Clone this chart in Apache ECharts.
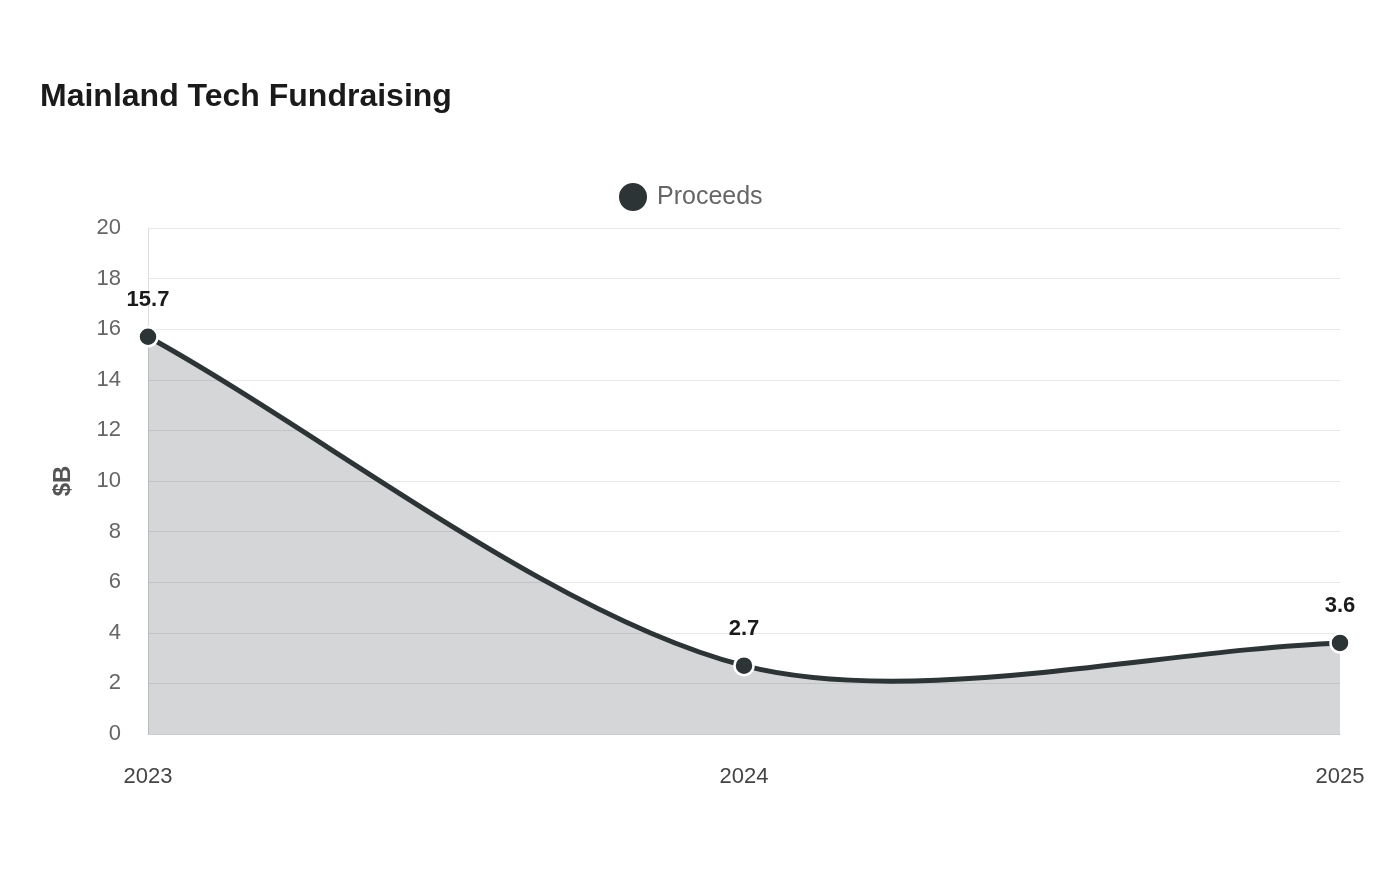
<!DOCTYPE html>
<html>
<head>
<meta charset="utf-8">
<script src="https://cdn.jsdelivr.net/npm/echarts@6/dist/echarts.min.js"></script>
<style>
  html, body { margin: 0; padding: 0; background: #fff; }
  #chart { width: 1400px; height: 880px; }
</style>
</head>
<body>
<div id="chart"></div>
<script>
// 数据
const years = ['2023', '2024', '2025']
const proceeds = [15.7, 2.7, 3.6]
const lineColor = '#2d3436'
// 曲线张力
const tension = 0.3

// 用坐标轴换算出的像素点画样条曲线和面积
function renderCurve(params, api) {
  if (params.dataIndex !== 0) return
  const pts = proceeds.map((v, i) => api.coord([i, v]))
  const n = pts.length
  const cps = pts.map((cur, i) => {
    const prev = pts[i - 1] || cur
    const next = pts[i + 1] || cur
    const d01 = Math.hypot(cur[0] - prev[0], cur[1] - prev[1])
    const d12 = Math.hypot(next[0] - cur[0], next[1] - cur[1])
    let s01 = d01 / (d01 + d12)
    let s12 = d12 / (d01 + d12)
    if (isNaN(s01)) s01 = 0
    if (isNaN(s12)) s12 = 0
    const fa = tension * s01
    const fb = tension * s12
    return {
      before: [cur[0] - fa * (next[0] - prev[0]), cur[1] - fa * (next[1] - prev[1])],
      after: [cur[0] + fb * (next[0] - prev[0]), cur[1] + fb * (next[1] - prev[1])]
    }
  })
  let line = 'M' + pts[0][0] + ' ' + pts[0][1]
  for (let i = 1; i < n; i++) {
    const a = cps[i - 1].after
    const b = cps[i].before
    line += ' C' + a[0] + ' ' + a[1] + ' ' + b[0] + ' ' + b[1] + ' ' + pts[i][0] + ' ' + pts[i][1]
  }
  const base0 = api.coord([0, 0])
  const baseN = api.coord([n - 1, 0])
  const area = line + ' L' + baseN[0] + ' ' + baseN[1] + ' L' + base0[0] + ' ' + base0[1] + ' Z'
  return {
    type: 'group',
    children: [
      { type: 'path', shape: { pathData: area }, style: { fill: 'rgba(45,52,54,0.2)', stroke: null } },
      { type: 'path', shape: { pathData: line }, style: { fill: null, stroke: lineColor, lineWidth: 5 } }
    ]
  }
}

const myChart = echarts.init(document.getElementById('chart'))
myChart.setOption({
  animation: false,
  textStyle: { fontFamily: 'Liberation Sans, Arial, sans-serif' },
  title: {
    text: 'Mainland Tech Fundraising',
    left: 40,
    top: 81,
    padding: 0,
    textStyle: { fontSize: 32, fontWeight: 'bold', color: '#1a1a1a' }
  },
  legend: {
    top: 176,
    left: 612,
    icon: 'circle',
    itemWidth: 30,
    itemHeight: 30,
    itemGap: 10,
    textStyle: { fontSize: 25, color: '#666', padding: [0, 0, 0, 4] },
    data: ['Proceeds']
  },
  grid: { left: 148, right: 60, top: 228, bottom: 146 },
  xAxis: {
    type: 'category',
    boundaryGap: false,
    data: years,
    axisLine: { lineStyle: { color: '#ccc' } },
    axisTick: { show: false },
    axisLabel: { fontSize: 22, color: '#444', margin: 32 }
  },
  yAxis: {
    type: 'value',
    min: 0,
    max: 20,
    interval: 2,
    name: '$B',
    nameLocation: 'middle',
    nameGap: 73,
    nameTextStyle: { fontSize: 24, fontWeight: 'bold', color: '#555' },
    axisLine: { show: true, lineStyle: { color: '#ddd' } },
    axisTick: { show: false },
    axisLabel: { fontSize: 22, color: '#666', margin: 27, padding: [4, 0, 0, 0] },
    splitLine: { lineStyle: { color: '#e8e8e8' } }
  },
  series: [
    {
      name: 'curve',
      type: 'custom',
      z: 1,
      silent: true,
      data: proceeds.map((v, i) => [i, v]),
      renderItem: renderCurve
    },
    {
      name: 'Proceeds',
      type: 'line',
      z: 3,
      data: proceeds,
      symbol: 'circle',
      symbolSize: 19,
      color: lineColor,
      lineStyle: { width: 0, opacity: 0 },
      itemStyle: { color: lineColor, borderColor: '#fff', borderWidth: 2.5 },
      label: {
        show: true,
        position: 'top',
        distance: 15,
        fontSize: 22,
        fontWeight: 'bold',
        color: '#1a1a1a'
      }
    }
  ]
})
</script>
</body>
</html>
